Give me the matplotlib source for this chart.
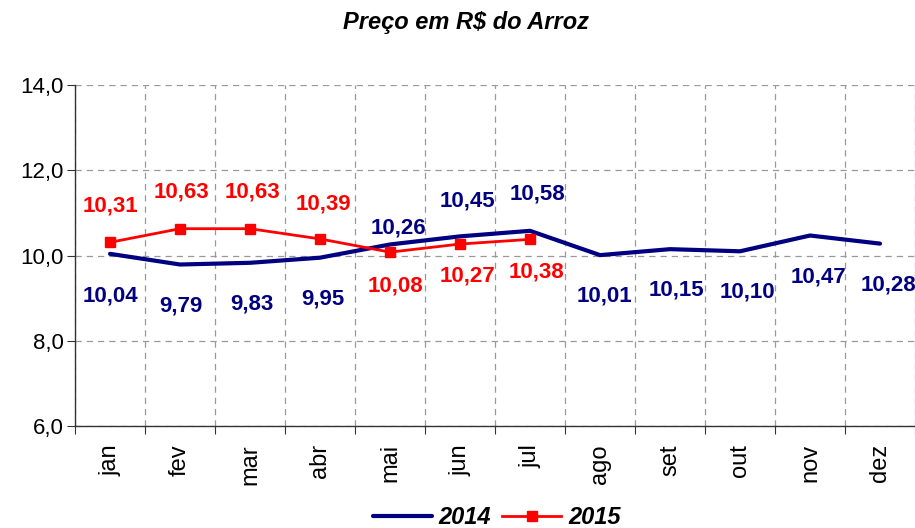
import matplotlib
matplotlib.use("Agg")
import matplotlib.pyplot as plt
from matplotlib.ticker import FuncFormatter

plt.rcParams['font.family'] = ['Liberation Sans', 'DejaVu Sans']

months = ["jan", "fev", "mar", "abr", "mai", "jun", "jul", "ago", "set", "out", "nov", "dez"]
y2014 = [10.04, 9.79, 9.83, 9.95, 10.26, 10.45, 10.58, 10.01, 10.15, 10.10, 10.47, 10.28]
y2015 = [10.31, 10.63, 10.63, 10.39, 10.08, 10.27, 10.38]

# label offsets in pixels (dx, dy; positive dy = below the point)
dx2014 = [0, 1, 2, 3, 8, 7, 7, 4, 6, 7, 8, 8]
dy2014 = [42, 41, 41, 41, -16, -35, -37, 41, 41, 41, 41, 41]
dx2015 = [0, 1, 2, 3, 5, 7, 6]
dy2015 = [-36, -37, -37, -35, 34, 32, 33]

NAVY = "#000080"
RED = "#FF0000"
PX = 72.0 / 100.0  # points per pixel

fig = plt.figure(figsize=(9.15, 5.28), dpi=100)
ax = fig.add_axes([0.082, 0.193, 0.918, 0.646])

x14 = list(range(len(y2014)))
x15 = list(range(len(y2015)))
ax.plot(x14, y2014, color=NAVY, lw=3.0, label="2014", solid_capstyle='round', zorder=3)
ax.plot(x15, y2015, color=RED, lw=2.0, marker='s', markersize=7, label="2015", zorder=4)

def fmt(v):
    return f"{v:.2f}".replace(".", ",")

for x, v, dx, dy in zip(x14, y2014, dx2014, dy2014):
    ax.annotate(fmt(v), (x, v), xytext=(dx * PX, -dy * PX), textcoords='offset points',
                ha='center', va='center', color=NAVY, fontsize=16, fontweight='bold')
for x, v, dx, dy in zip(x15, y2015, dx2015, dy2015):
    ax.annotate(fmt(v), (x, v), xytext=(dx * PX, -dy * PX), textcoords='offset points',
                ha='center', va='center', color=RED, fontsize=16, fontweight='bold')

ax.set_xlim(-0.5, len(months) - 0.5)
ax.set_ylim(6, 14)
ax.set_yticks([6, 8, 10, 12, 14])
ax.yaxis.set_major_formatter(FuncFormatter(lambda v, _: f"{v:.1f}".replace(".", ",")))
ax.set_xticks([i + 0.5 for i in range(-1, len(months))], minor=False)
ax.set_xticklabels([""] * (len(months) + 1))
ax.set_xticks(x14, minor=True)
ax.set_xticklabels(months, minor=True, rotation=90, fontsize=17)
ax.tick_params(axis='x', which='minor', length=0, pad=13)
ax.tick_params(axis='x', which='major', length=6, direction='out', color='#333333')
ax.tick_params(axis='y', length=6, direction='out', labelsize=16, color='#333333', pad=2)

ax.grid(True, which='major', axis='both', linestyle=(0, (5, 4)), color='#999999', lw=0.9)
ax.set_axisbelow(True)
for s in ['top', 'right']:
    ax.spines[s].set_visible(False)
for s in ['left', 'bottom']:
    ax.spines[s].set_color('#333333')
    ax.spines[s].set_linewidth(1.0)

fig.text(0.509, 0.958, "Preço em R$ do Arroz", ha='center', va='center',
         fontsize=17, fontweight='bold', fontstyle='italic')

leg = fig.legend(loc='center', bbox_to_anchor=(0.543, 0.02), ncol=2, frameon=False,
                 prop={'weight': 'bold', 'style': 'italic', 'size': 17},
                 handlelength=2.5, columnspacing=0.47, handletextpad=0.3,
                 borderpad=0, borderaxespad=0)

fig.savefig("out.png", dpi=100)
